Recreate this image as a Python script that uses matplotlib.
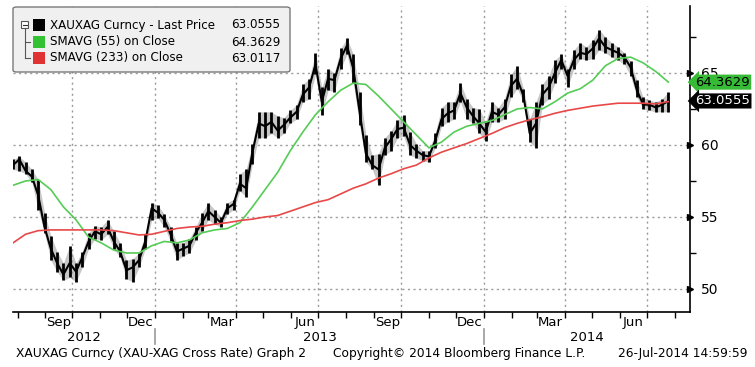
import matplotlib
matplotlib.use("Agg")
import matplotlib.pyplot as plt
import matplotlib.dates as mdates
from matplotlib.patches import Rectangle, FancyBboxPatch
from matplotlib.lines import Line2D
import pandas as pd

# --- data (weekly, Fridays 27-Jul-2012 .. 25-Jul-2014) ---
px_close = [58.6, 59.0, 58.2, 57.8, 56.5, 54.3, 52.8, 51.8, 51.0, 51.8,
            51.2, 52.2, 53.3, 54.0, 53.8, 54.3, 53.3, 52.6, 51.3, 51.5,
            52.0, 53.3, 55.6, 55.3, 54.8, 53.8, 52.6, 52.8, 53.0, 53.9,
            54.6, 55.4, 55.0, 54.6, 55.6, 55.9, 57.3, 57.0, 59.5, 61.5,
            61.3, 61.6, 61.0, 61.4, 61.9, 62.3, 63.5, 64.0, 65.6, 63.0,
            64.6, 64.5, 66.0, 66.9, 65.3, 62.3, 59.4, 58.6, 58.3, 59.8,
            60.4, 61.1, 61.2, 60.0, 59.6, 59.3, 59.2, 60.3, 61.8, 62.2,
            62.4, 63.6, 62.6, 62.0, 61.5, 60.9, 62.3, 62.1, 62.6, 64.1,
            64.6, 63.4, 60.8, 61.5, 63.5, 64.0, 65.0, 65.9, 64.8, 65.9,
            66.4, 66.3, 66.7, 67.4, 66.8, 66.6, 66.4, 66.1, 65.4, 63.8,
            62.8, 62.8, 62.6, 62.8, 63.0555]
px_high = [59.0, 59.2, 58.8, 58.3, 57.6, 55.3, 53.7, 52.6, 51.8, 53.0,
           51.8, 52.6, 53.9, 54.4, 54.3, 54.8, 54.0, 53.2, 52.0, 52.1,
           52.5, 53.8, 56.0, 55.8, 55.2, 54.3, 53.2, 53.2, 53.5, 54.3,
           55.3, 56.0, 55.5, 55.0, 56.0, 56.2, 58.0, 58.3, 60.1, 62.3,
           62.3, 62.3, 62.0, 61.9, 62.4, 62.8, 64.2, 64.6, 66.4, 64.0,
           65.3, 65.0, 66.7, 67.4, 66.3, 63.7, 60.7, 59.3, 59.4, 60.5,
           61.0, 61.7, 62.1, 60.9, 60.1, 59.6, 59.6, 60.8, 62.6, 63.0,
           63.0, 64.3, 63.2, 62.6, 62.5, 61.6, 63.0, 62.6, 63.2, 64.9,
           65.5, 63.9, 61.8, 63.0, 64.2, 64.8, 65.9, 66.3, 65.3, 66.6,
           67.1, 66.8, 67.3, 68.0, 67.5, 67.1, 66.8, 66.4, 65.8, 64.5,
           63.3, 63.1, 63.0, 63.2, 63.7]
px_low = [58.3, 58.2, 58.0, 57.4, 55.5, 53.9, 52.0, 51.2, 50.6, 50.8,
          50.5, 51.5, 52.8, 53.5, 53.4, 53.8, 52.8, 52.2, 50.7, 50.5,
          51.5, 52.8, 54.8, 54.9, 54.3, 53.3, 52.0, 52.3, 52.5, 53.4,
          54.0, 54.8, 54.5, 54.3, 55.2, 55.5, 56.8, 56.4, 58.7, 60.5,
          60.5, 60.8, 60.5, 60.8, 61.5, 61.8, 63.0, 63.2, 64.9, 62.1,
          63.8, 63.7, 65.3, 66.3, 64.3, 61.4, 58.8, 58.3, 57.2, 59.3,
          59.6, 60.5, 60.6, 59.3, 59.1, 58.9, 58.8, 59.8, 61.3, 61.6,
          61.8, 63.0, 61.8, 61.5, 60.8, 60.3, 61.6, 61.6, 61.8, 63.3,
          63.9, 63.0, 60.2, 59.8, 62.8, 63.2, 64.3, 65.3, 64.0, 65.3,
          66.0, 65.9, 66.0, 66.6, 66.4, 66.1, 65.9, 65.6, 64.8, 63.3,
          62.5, 62.4, 62.3, 62.3, 62.3]

# moving averages, read every two weeks
sma55 = [57.2, 57.5, 57.6, 56.9, 55.7, 54.8, 53.6, 53.2, 52.7, 52.5,
         52.5, 53.0, 53.3, 53.2, 53.4, 53.9, 54.1, 54.2, 54.6, 55.7,
         56.9, 58.1, 59.6, 60.9, 62.1, 63.0, 63.8, 64.3, 64.2, 63.4,
         62.5, 61.6, 60.7, 59.8, 60.2, 60.9, 61.3, 61.5, 61.7, 62.1,
         62.5, 62.6, 62.5, 63.0, 63.6, 63.9, 64.5, 65.5, 66.0, 66.1,
         65.7, 65.1, 64.3629]
sma233 = [53.2, 53.8, 54.05, 54.1, 54.1, 54.1, 54.1, 54.1, 54.05, 53.9,
          53.75, 53.8, 54.0, 54.2, 54.3, 54.35, 54.5, 54.6, 54.75, 54.85,
          55.0, 55.1, 55.4, 55.7, 56.0, 56.2, 56.6, 57.0, 57.3, 57.7,
          58.0, 58.35, 58.6, 59.1, 59.5, 59.8, 60.1, 60.45, 60.8, 61.2,
          61.5, 61.75, 61.95, 62.2, 62.4, 62.55, 62.7, 62.8, 62.9, 62.9,
          62.9, 62.85, 63.0117]

legend_names = ["XAUXAG Curncy - Last Price", "SMAVG (55) on Close", "SMAVG (233) on Close"]
legend_values = ["63.0555", "64.3629", "63.0117"]
legend_colors = ["#000000", "#33c233", "#e03232"]

wk_dates = pd.date_range("2012-07-27", periods=len(px_close), freq="7D")
sma_dates = wk_dates[::2]

W, H = 755, 367
def fx(p): return p / W
def fy(p): return 1 - p / H

plt.rcParams["font.family"] = "DejaVu Sans"

fig = plt.figure(figsize=(7.55, 3.67), dpi=100)
ax = fig.add_axes([fx(13), fy(312), fx(690) - fx(13), fy(6) - fy(312)])

# price: weekly high-low bars with a faint range band, plus the close line
ax.fill_between(wk_dates, px_low, px_high, color="#9a9a9a", alpha=0.55, lw=0, zorder=2)
ax.vlines(wk_dates, px_low, px_high, color="black", lw=2.0, zorder=3)
ax.plot(wk_dates, px_close, color="black", lw=1.5, zorder=3)
ax.plot(sma_dates, sma55, color="#55cc55", lw=1.2, zorder=4)
ax.plot(sma_dates, sma233, color="#e84848", lw=1.2, zorder=4)

ax.set_xlim(pd.Timestamp("2012-07-27"), pd.Timestamp("2014-08-18"))
ax.set_ylim(48.4, 69.65)

for s in ["top", "left"]:
    ax.spines[s].set_visible(False)
ax.spines["right"].set_linewidth(1.2)
ax.spines["bottom"].set_linewidth(1.2)

# y axis on the right
ax.yaxis.tick_right()
ax.set_yticks([50, 55, 60, 65])
ax.set_yticks([52.5, 57.5, 62.5, 67.5], minor=True)
ax.tick_params(axis="y", which="major", length=0, pad=8, labelsize=10)
ax.tick_params(axis="y", which="minor", length=4, width=1)
for t in [50, 55, 60, 65]:
    ax.plot([1.0], [t], marker=">", ms=5, color="black",
            transform=ax.get_yaxis_transform(), clip_on=False)
ax.grid(axis="y", which="major", color="#9a9a9a", ls=(0, (1.5, 2.5)), lw=1)

# x axis: month ticks, quarter labels centred in month
ax.xaxis.set_major_locator(mdates.MonthLocator())
ax.xaxis.set_major_formatter(plt.NullFormatter())
ax.xaxis.set_minor_locator(mdates.MonthLocator(bymonth=[3, 6, 9, 12], bymonthday=16))
ax.xaxis.set_minor_formatter(mdates.DateFormatter("%b"))
ax.tick_params(axis="x", which="major", length=4, width=1)
ax.tick_params(axis="x", which="minor", length=0, pad=3, labelsize=9.5)

for q in pd.date_range("2012-10-01", "2014-07-01", freq="QS"):
    ax.axvline(q, color="#9a9a9a", ls=(0, (1.5, 2.5)), lw=1, zorder=1)

xl = ax.get_xlim()
yr_edges = [xl[0], mdates.date2num(pd.Timestamp("2013-01-01")),
            mdates.date2num(pd.Timestamp("2014-01-01")), xl[1]]
for i, yr in enumerate(["2012", "2013", "2014"]):
    ax.text((yr_edges[i] + yr_edges[i + 1]) / 2, -0.082, yr, ha="center", va="center",
            fontsize=9.5, transform=ax.get_xaxis_transform())
for e in yr_edges[1:3]:
    ax.plot([e, e], [-0.055, -0.105], color="#999999", lw=1.2,
            transform=ax.get_xaxis_transform(), clip_on=False)

# last value tags
ax.annotate(legend_values[1], xy=(1, float(legend_values[1])), xycoords=ax.get_yaxis_transform(),
            xytext=(4, 0), textcoords="offset points", ha="left", va="center",
            fontsize=9.5, color="black", zorder=10,
            bbox=dict(boxstyle="larrow,pad=0.08", fc="#37bb37", ec="none"))
ax.annotate(legend_values[0], xy=(1, float(legend_values[0])), xycoords=ax.get_yaxis_transform(),
            xytext=(4, 0), textcoords="offset points", ha="left", va="center",
            fontsize=9.5, color="white", zorder=10,
            bbox=dict(boxstyle="larrow,pad=0.08", fc="black", ec="none"))

# legend box
fig.patches.append(FancyBboxPatch((fx(13), fy(72)), fx(290) - fx(13), fy(7) - fy(72),
                                  boxstyle="round,pad=0,rounding_size=0.005",
                                  transform=fig.transFigure, fc="#f0f0f0", ec="#7a7a7a", lw=1))
rows = [25, 42, 58]
fig.patches.append(Rectangle((fx(21), fy(28)), fx(7), fy(21) - fy(28), transform=fig.transFigure,
                             fc="white", ec="#555555", lw=0.8))
fig.lines.append(Line2D([fx(22.5), fx(26.5)], [fy(24.5)] * 2, transform=fig.transFigure, color="#333333", lw=0.8))
fig.lines.append(Line2D([fx(24.5), fx(24.5)], [fy(28), fy(58)], transform=fig.transFigure, color="#555555", lw=0.8))
for r in rows[1:]:
    fig.lines.append(Line2D([fx(24.5), fx(30)], [fy(r)] * 2, transform=fig.transFigure, color="#555555", lw=0.8))
for r, name, val, c in zip(rows, legend_names, legend_values, legend_colors):
    fig.patches.append(Rectangle((fx(33), fy(r + 6)), fx(12), fy(r - 6) - fy(r + 6),
                                 transform=fig.transFigure, fc=c, ec="none"))
    fig.text(fx(50), fy(r), name, fontsize=8.6, va="center", ha="left")
    fig.text(fx(231), fy(r), val, fontsize=8.6, va="center", ha="left")

# footer
fig.text(fx(16), fy(354), "XAUXAG Curncy (XAU-XAG Cross Rate) Graph 2", fontsize=8.8, va="center")
fig.text(fx(333), fy(354), "Copyright\u00a9 2014 Bloomberg Finance L.P.", fontsize=8.8, va="center")
fig.text(fx(748), fy(354), "26-Jul-2014 14:59:59", fontsize=8.8, va="center", ha="right")

fig.savefig("out.png", dpi=100)
